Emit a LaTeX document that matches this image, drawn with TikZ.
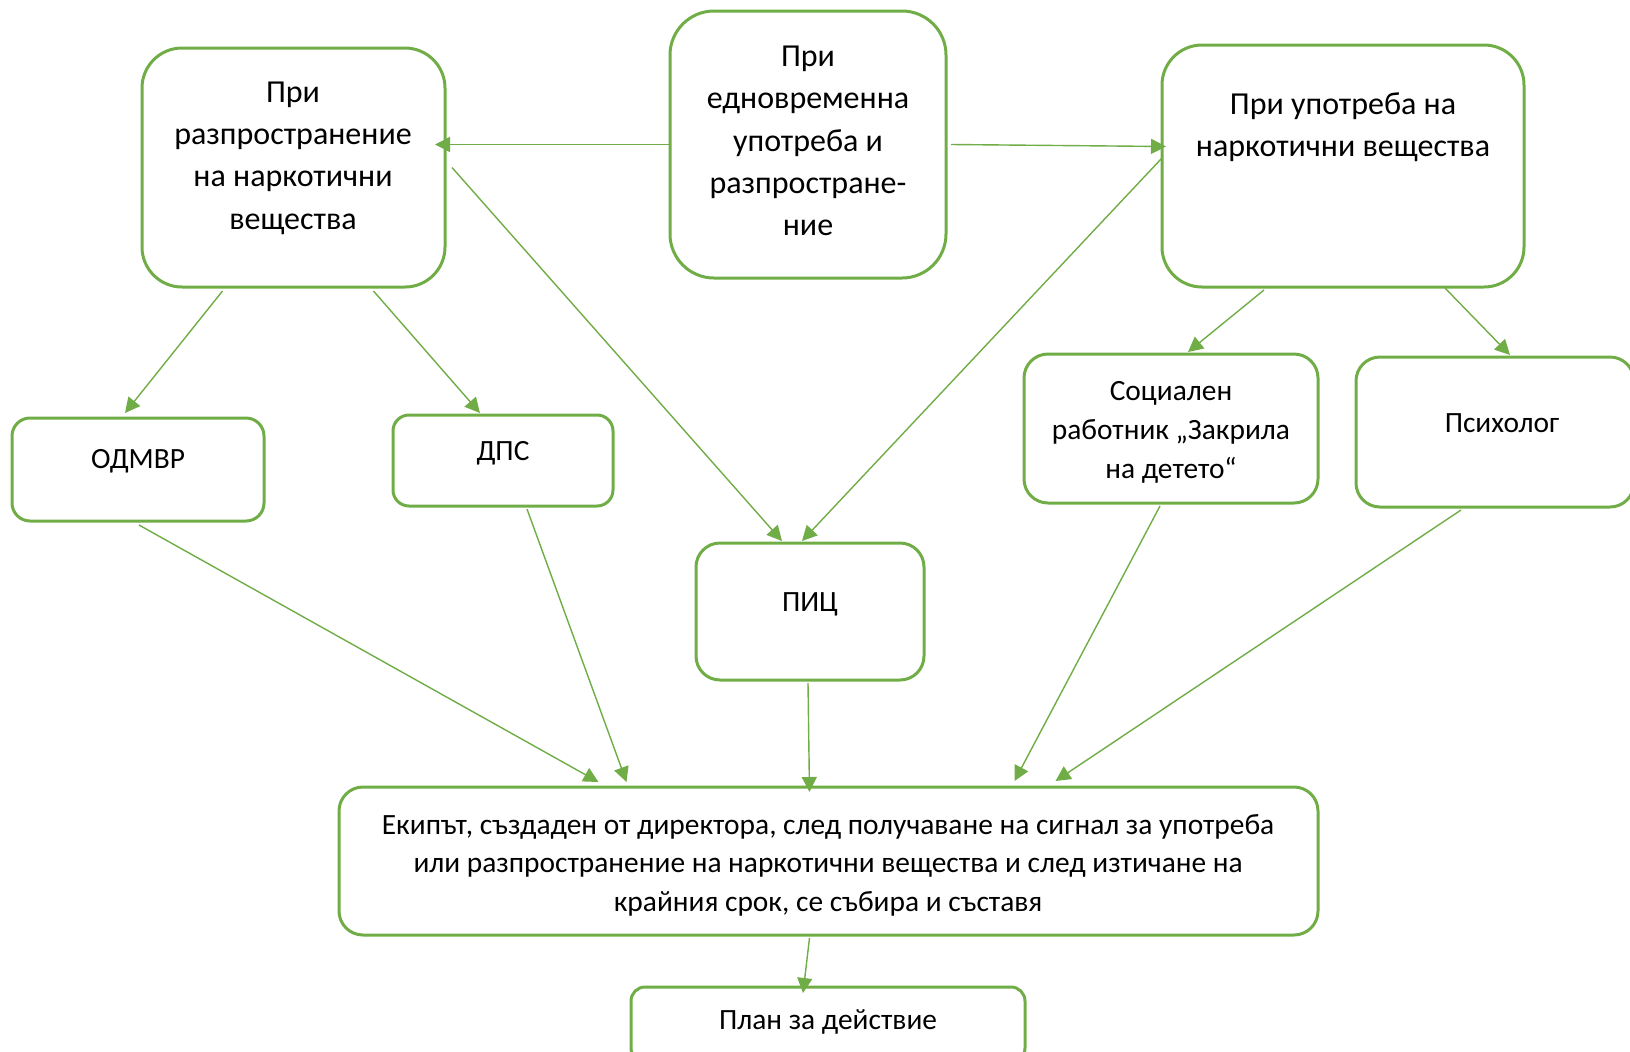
\documentclass[tikz,border=0pt]{standalone}
\usepackage{fontspec}
\setmainfont{Carlito}
\usetikzlibrary{arrows.meta, calc, fit}
\definecolor{officegreen}{RGB}{112, 173, 71}
\tikzset{
  >={Triangle[length=7.5pt, width=7.5pt]},
}

\begin{document}
\begin{tikzpicture}[x=0.5pt, y=-0.5pt,
    box/.style={draw=officegreen, line width=1.5pt, inner sep=0pt, outer sep=0pt},
    txt/.style={align=center, inner sep=0pt, font=\fontsize{14.7pt}{20pt}\selectfont},
    bigtxt/.style={txt, font=\fontsize{16pt}{21.2pt}\selectfont},
    arr/.style={->, draw=officegreen, fill=officegreen, line width=0.7pt}]
  \useasboundingbox (0,0) rectangle (1630,1051);
  % upper row
  \node [box, rounded corners=20pt, fit={(142,48) (445,287)}] (lt) {};
  \node [box, rounded corners=22pt, fit={(670,11) (946,278)}] (c) {};
  \node [box, rounded corners=20pt, fit={(1162,45) (1524,287)}] (rt) {};
  \node [bigtxt] (ltt) at (293,158) {При\\разпространение\\на наркотични\\вещества};
  \node [bigtxt] (ct) at (808,141) {При\\едновременна\\употреба и\\разпростране-\\ние};
  \node [bigtxt] (rtt) at (1343,127) {При употреба на\\наркотични вещества};
  % middle row
  \node [box, rounded corners=9pt, fit={(12,418) (264,521)}] (od) {};
  \node [box, rounded corners=8pt, fit={(393,415) (613,506)}] (dps) {};
  \node [box, rounded corners=12pt, fit={(696,543) (924,680)}] (pic) {};
  \node [box, rounded corners=12pt, fit={(1024,354) (1318,503)}] (soc) {};
  \node [box, rounded corners=12pt, fit={(1356,357) (1634,507)}] (psy) {};
  \node [txt] (odt) at (138,461) {ОДМВР};
  \node [txt] (dpst) at (503,453) {ДПС};
  \node [txt] (pict) at (810,604) {ПИЦ};
  \node [txt, font=\fontsize{14.7pt}{19.5pt}\selectfont] (soct) at (1171,432)
        {Социален\\работник „Закрила\\на детето“};
  \node [txt] (psyt) at (1502,423) {Психолог};
  % bottom
  \node [box, rounded corners=12pt, fit={(339,787) (1318,935)}] (team) {};
  \node [box, rounded corners=7pt, fit={(631,987) (1025,1062)}] (plan) {};
  \node [txt, font=\fontsize{14.7pt}{19.25pt}\selectfont] (teamt) at (828,865)
        {Екипът, създаден от директора, след получаване на сигнал за употреба\\
         или разпространение на наркотични вещества и след изтичане на\\
         крайния срок, се събира и съставя};
  \node [txt] (plant) at (828,1022) {План за действие};
  % connectors
  \draw [arr] (c.west) -- ($(lt.east |- c.west)+(-10,0)$);
  \draw [arr] ($(c.east)+(5,0)$) -- ($(rt.west |- c.east)+(4,2)$);
  \draw [arr] ($(lt.south)+(-71,4)$) -- ($(od.north)+(-13,-5)$);
  \draw [arr] ($(lt.south)+(80,4)$) -- ($(dps.north)+(-23,-2)$);
  \draw [arr] ($(lt.east)+(7,0)$) -- ($(pic.north)+(-28,-2)$);
  \draw [arr] ($(rt.west)+(0,-8)$) -- ($(pic.north)+(-8,-2)$);
  \draw [arr] ($(rt.south)+(-79,3)$) -- ($(soc.north)+(17,-2)$);
  \draw [arr] ($(rt.south)+(102,1)$) -- ($(psy.north)+(15,-2)$);
  \draw [arr] ($(od.south)+(1,4)$) -- ($(team.north)+(-230,-5)$);
  \draw [arr] ($(dps.south)+(24,3)$) -- ($(team.north)+(-202,-5)$);
  \draw [arr] ($(pic.south)+(-2,3)$) -- ($(team.north)+(-19,5)$);
  \draw [arr] ($(soc.south)+(-11,3)$) -- ($(team.north)+(186,-6)$);
  \draw [arr] ($(psy.south)+(-34,3)$) -- ($(team.north)+(227,-6)$);
  \draw [arr] ($(team.south)+(-19,3)$) -- ($(plan.north)+(-25,6)$);
\end{tikzpicture}
\end{document}
